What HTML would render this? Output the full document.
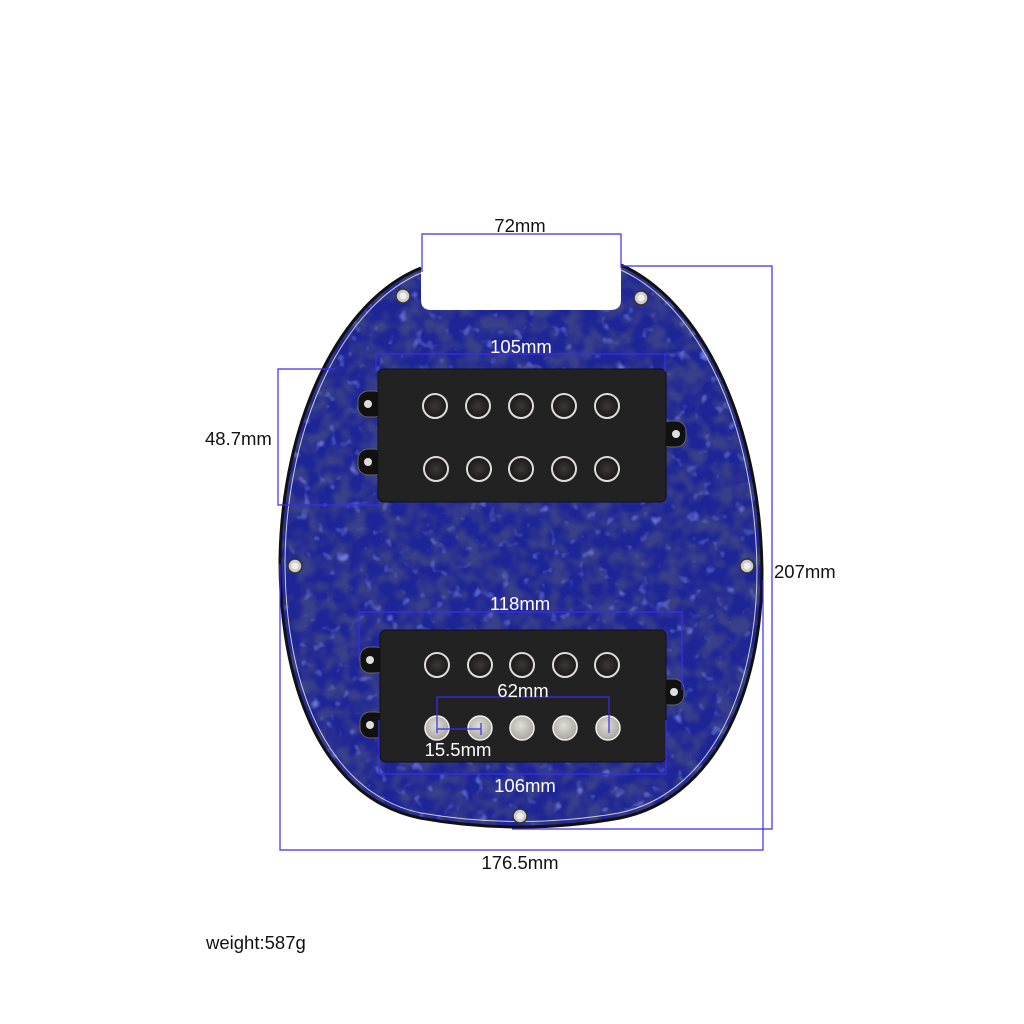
<!DOCTYPE html>
<html><head><meta charset="utf-8"><style>
html,body{margin:0;padding:0;background:#fff;}
svg{display:block;}
text{font-family:"Liberation Sans",sans-serif;font-size:18.5px;}
</style></head><body>
<svg width="1024" height="1024" viewBox="0 0 1024 1024" xmlns="http://www.w3.org/2000/svg">
<defs>
<filter id="pearl" x="0" y="0" width="100%" height="100%">
<feTurbulence type="fractalNoise" baseFrequency="0.06" numOctaves="2" seed="7" result="n"/>
<feColorMatrix in="n" type="matrix" values="0 0 0 0 0.04  0 0 0 0 0.05  0 0 0 0 0.25  0 0 3 0 -1.1" result="c"/>
<feComposite in="c" in2="SourceGraphic" operator="in"/>
</filter>
<filter id="pearl2" x="0" y="0" width="100%" height="100%">
<feTurbulence type="fractalNoise" baseFrequency="0.08" numOctaves="2" seed="3" result="n"/>
<feColorMatrix in="n" type="matrix" values="0 0 0 0 0.2  0 0 0 0 0.25  0 0 0 0 0.85  0 0 0 3 -1.9" result="c"/>
<feComposite in="c" in2="SourceGraphic" operator="in"/>
</filter>
<radialGradient id="pole" cx="50%" cy="50%" r="50%"><stop offset="0" stop-color="#3d3838"/><stop offset="1" stop-color="#1a1717"/></radialGradient>
<radialGradient id="pole2" cx="45%" cy="40%" r="60%"><stop offset="0" stop-color="#e0dcd6"/><stop offset="1" stop-color="#a8a49e"/></radialGradient>
</defs>
<path d="M421,268 C340,300 282,420 280,560 C280,700 330,800 420,818 Q520,836 620,818 C710,800 762,700 762,570 C760,420 700,300 621,265 L621,300 Q621,310 611,310 L431,310 Q421,310 421,300 Z" fill="#1e2596"/>
<path d="M421,268 C340,300 282,420 280,560 C280,700 330,800 420,818 Q520,836 620,818 C710,800 762,700 762,570 C760,420 700,300 621,265 L621,300 Q621,310 611,310 L431,310 Q421,310 421,300 Z" fill="#fff" filter="url(#pearl)"/>
<path d="M421,268 C340,300 282,420 280,560 C280,700 330,800 420,818 Q520,836 620,818 C710,800 762,700 762,570 C760,420 700,300 621,265 L621,300 Q621,310 611,310 L431,310 Q421,310 421,300 Z" fill="#fff" filter="url(#pearl2)"/>
<path d="M421,268 C340,300 282,420 280,560 C280,700 330,800 420,818 Q520,836 620,818 C710,800 762,700 762,570 C760,420 700,300 621,265" fill="none" stroke="#111" stroke-width="3"/>
<path d="M421,273 C345,305 287,420 285,560 C285,698 334,795 421,813 Q520,830 619,813 C706,795 757,698 757,570 C755,420 697,305 621,270" fill="none" stroke="#ccc" stroke-width="1"/>
<!-- pickup 1 -->
<g>
<rect x="358" y="391" width="26" height="26" rx="10" fill="#111" stroke="#666"/>
<rect x="358" y="449" width="26" height="26" rx="10" fill="#111" stroke="#666"/>
<rect x="660" y="421" width="26" height="26" rx="10" fill="#111" stroke="#666"/>
<circle cx="368" cy="404" r="4" fill="#ddd"/><circle cx="368" cy="462" r="4" fill="#ddd"/><circle cx="676" cy="434" r="4" fill="#ddd"/>
<rect x="378" y="369" width="288" height="133" rx="6" fill="#222" stroke="#111"/>
<g fill="url(#pole)" stroke="#ddd" stroke-width="2">
<circle cx="435" cy="406" r="12"/><circle cx="478" cy="406" r="12"/><circle cx="521" cy="406" r="12"/><circle cx="564" cy="406" r="12"/><circle cx="607" cy="406" r="12"/>
<circle cx="436" cy="469" r="12"/><circle cx="479" cy="469" r="12"/><circle cx="521" cy="469" r="12"/><circle cx="564" cy="469" r="12"/><circle cx="607" cy="469" r="12"/>
</g></g>
<!-- pickup 2 -->
<g>
<rect x="360" y="647" width="26" height="26" rx="10" fill="#111" stroke="#666"/>
<rect x="360" y="712" width="26" height="26" rx="10" fill="#111" stroke="#666"/>
<rect x="658" y="679" width="26" height="26" rx="10" fill="#111" stroke="#666"/>
<circle cx="370" cy="660" r="4" fill="#ddd"/><circle cx="370" cy="725" r="4" fill="#ddd"/><circle cx="674" cy="692" r="4" fill="#ddd"/>
<rect x="380" y="630" width="286" height="132" rx="6" fill="#222" stroke="#111"/>
<g fill="url(#pole)" stroke="#ddd" stroke-width="2">
<circle cx="437" cy="665" r="12"/><circle cx="480" cy="665" r="12"/><circle cx="522" cy="665" r="12"/><circle cx="565" cy="665" r="12"/><circle cx="607" cy="665" r="12"/>
</g>
<g fill="url(#pole2)" stroke="#eee" stroke-width="1.5">
<circle cx="437" cy="728" r="12"/><circle cx="480" cy="728" r="12"/><circle cx="522" cy="728" r="12"/><circle cx="565" cy="728" r="12"/><circle cx="608" cy="728" r="12"/>
</g></g>
<!-- screws -->
<g fill="#ccc" stroke="#333" stroke-width="1.5">
<circle cx="403" cy="296" r="7"/><circle cx="641" cy="298" r="7"/><circle cx="295" cy="566" r="7"/><circle cx="747" cy="566" r="7"/><circle cx="520" cy="816" r="7"/>
</g>
<g fill="#eee"><circle cx="403" cy="296" r="3.5"/><circle cx="641" cy="298" r="3.5"/><circle cx="295" cy="566" r="3.5"/><circle cx="747" cy="566" r="3.5"/><circle cx="520" cy="816" r="3.5"/></g>
<!-- dimension lines -->
<g fill="none" stroke="#3a2cf0" stroke-width="1.2">
<path d="M422,272 V234 H621 V268"/>
<path d="M621,266 H772 V829 H512"/>
<path d="M376,372 V354 H665 V372"/>
<path d="M335,369 H278 V505 H380"/>
<path d="M359,660 V612 H682 V690"/>
<path d="M437,733 V697 H609 V733"/>
<path d="M437,729 H481 M481,723 V735"/>
<path d="M379,720 V774 H666 V720"/>
<path d="M280,564 V850 H763 V580"/>
</g>
<g text-anchor="middle">
<text x="520" y="232" fill="#111">72mm</text>
<text x="521" y="353" fill="#fff">105mm</text>
<text x="520" y="610" fill="#fff">118mm</text>
<text x="523" y="697" fill="#fff">62mm</text>
<text x="458" y="756" fill="#fff">15.5mm</text>
<text x="525" y="792" fill="#fff">106mm</text>
<text x="520" y="869" fill="#111">176.5mm</text>
</g>
<text x="205" y="445" fill="#111">48.7mm</text>
<text x="774" y="578" fill="#111">207mm</text>
<text x="206" y="949" fill="#111">weight:587g</text>
</svg>
</body></html>
